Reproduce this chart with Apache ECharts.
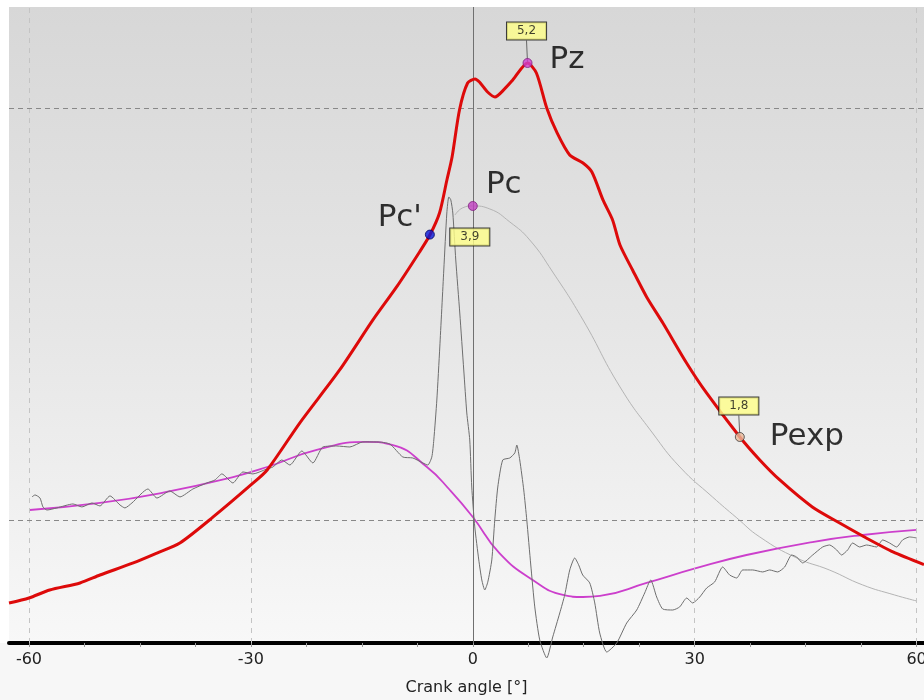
<!DOCTYPE html>
<html><head><meta charset="utf-8">
<script src="https://cdn.jsdelivr.net/npm/echarts@6/dist/echarts.min.js"></script>
<style>html,body{margin:0;padding:0;background:#fff;overflow:hidden;}#c{width:924px;height:700px;}</style>
</head><body><div id="c"></div>
<script>
// ---- data (crank angle in degrees, pressure-like value) ----
const pressureCurve = [[-62.7,0.29],[-60.0,0.336],[-57.2,0.409],[-53.1,0.473],[-50.4,0.545],[-45.9,0.655],[-42.7,0.745],[-39.6,0.836],[-35.1,1.073],[-30.0,1.364],[-27.8,1.5],[-23.4,1.927],[-18.0,2.409],[-13.5,2.864],[-10.3,3.164],[-7.2,3.482],[-5.8,3.636],[-4.5,3.836],[-3.5,4.136],[-2.8,4.345],[-1.8,4.773],[-0.7,5.018],[0.3,5.055],[0.9,5.027],[2.0,4.936],[3.0,4.891],[4.3,4.964],[5.4,5.045],[7.4,5.2],[8.6,5.109],[10.0,4.791],[11.4,4.564],[13.1,4.364],[14.9,4.291],[16.1,4.209],[17.6,3.955],[18.9,3.773],[19.9,3.545],[21.6,3.318],[23.5,3.073],[25.7,2.836],[28.9,2.473],[31.6,2.2],[36.1,1.8],[38.8,1.591],[41.5,1.409],[45.9,1.164],[49.6,1.018],[53.2,0.882],[56.8,0.755],[61.0,0.64]];
const motoredCurve = [[-2.4,3.818],[-1.4,3.882],[0,3.9],[2.3,3.873],[5.0,3.755],[7.7,3.591],[10.8,3.3],[14.9,2.864],[19.9,2.255],[24.3,1.836],[28.0,1.527],[32.4,1.255],[35.7,1.064],[38.8,0.891],[43.8,0.7],[48.2,0.591],[52.7,0.455],[57.0,0.364],[60.0,0.309]];
const smoothCurve = [[-59.9,1.136],[-50.4,1.2],[-41.4,1.3],[-32.4,1.436],[-27.8,1.527],[-21.1,1.682],[-14.3,1.755],[-10.8,1.727],[-6.2,1.527],[-3.1,1.318],[0,1.073],[3.6,0.745],[8.1,0.5],[12.2,0.364],[14.9,0.345],[17.2,0.355],[23.5,0.473],[30.3,0.609],[37.0,0.727],[45.9,0.845],[52.7,0.909],[60.0,0.955]];
const rawCurve = [[-59.59,1.255],[-59.19,1.273],[-58.51,1.245],[-58.11,1.164],[-57.57,1.136],[-56.22,1.155],[-54.05,1.191],[-52.84,1.164],[-51.49,1.2],[-50.41,1.173],[-49.05,1.264],[-47.7,1.182],[-47.03,1.155],[-46.08,1.2],[-43.92,1.327],[-42.7,1.245],[-40.95,1.309],[-39.59,1.255],[-37.84,1.327],[-35.95,1.382],[-34.86,1.409],[-33.92,1.464],[-32.43,1.382],[-31.08,1.482],[-29.73,1.464],[-27.84,1.509],[-27.03,1.527],[-25.81,1.591],[-24.73,1.545],[-23.11,1.673],[-21.62,1.564],[-20.27,1.709],[-18.38,1.718],[-16.62,1.709],[-14.86,1.755],[-12.97,1.755],[-11.22,1.736],[-9.46,1.618],[-8.11,1.609],[-6.76,1.564],[-6.08,1.545],[-5.54,1.618],[-5.27,1.773],[-4.86,2.136],[-4.46,2.618],[-3.92,3.318],[-3.51,3.836],[-3.24,3.982],[-2.97,3.955],[-2.7,3.836],[-2.3,3.409],[-1.76,2.927],[-1.22,2.409],[-0.81,2.018],[-0.41,1.773],[-0.14,1.345],[0.27,0.982],[0.81,0.682],[1.22,0.5],[1.62,0.409],[2.03,0.482],[2.57,0.682],[2.97,1.045],[3.38,1.345],[4.05,1.591],[5.0,1.609],[5.68,1.655],[5.95,1.727],[6.35,1.591],[6.89,1.318],[7.3,1.045],[7.84,0.636],[8.38,0.255],[9.05,-0.045],[10.0,-0.209],[10.81,-0.018],[11.76,0.2],[12.43,0.364],[13.11,0.591],[13.78,0.7],[14.32,0.636],[14.86,0.545],[15.81,0.473],[16.49,0.291],[17.16,0.018],[18.11,-0.155],[19.46,-0.073],[20.81,0.109],[22.16,0.227],[23.24,0.382],[24.05,0.5],[24.86,0.345],[25.68,0.236],[27.03,0.227],[27.97,0.255],[28.92,0.336],[29.73,0.291],[30.68,0.345],[31.62,0.427],[32.7,0.482],[33.78,0.618],[34.73,0.545],[35.68,0.518],[36.49,0.591],[37.84,0.591],[39.19,0.573],[40.14,0.591],[41.22,0.573],[42.16,0.618],[43.11,0.727],[43.78,0.709],[44.59,0.655],[45.95,0.727],[47.3,0.8],[48.24,0.818],[49.19,0.773],[49.86,0.727],[50.68,0.773],[51.35,0.836],[52.3,0.8],[53.24,0.818],[54.59,0.8],[55.41,0.864],[56.35,0.836],[57.3,0.8],[58.11,0.864],[59.05,0.891],[60.0,0.882]];

const markerNames = ['Pz', 'Pc', "Pc'", 'Pexp'];
const markerAngles = [7.4, 0, -5.8, 36.1];
const markerValues = [5.2, 3.9, 3.64, 1.8];
const valueBoxNames = ['Pz', 'Pc', 'Pexp'];

const xLabelValues = [-60, -30, 0, 30, 60];
const xTickValues = [-60, -52.5, -45, -37.5, -30, -22.5, -15, -7.5, 0, 7.5, 15, 22.5, 30, 37.5, 45, 52.5, 60];
const xGridLines = [-60, -30, 30, 60];
const yGridLines = [4.79, 1.045];
const xZeroLine = [0];
const xAxisTitle = 'Crank angle [°]';

// ---- styles / placement ----
const markerStyle = {
  'Pz':   {color: '#d040d0', border: '#802080', label: {position: 'right', distance: 17, offset: [0, -3]}},
  'Pc':   {color: '#c040c0', border: '#802080', label: {position: 'top', distance: 1, offset: [31, 0]}},
  "Pc'":  {color: '#0818d8', border: '#000060', label: {position: 'left', distance: 3, offset: [0, -17]}},
  'Pexp': {color: '#e8b898', border: '#404040', label: {position: 'right', distance: 25, offset: [0, 0]}}
};
const boxPlacement = {'Pz': [-1, -32, true], 'Pc': [-3, 31, false], 'Pexp': [-1, -31, true]};
const FONT = 'DejaVu Sans';

const chart = echarts.init(document.getElementById('c'), null, {width: 924, height: 700});

const markerData = markerNames.map((n, i) => ({
  name: n,
  value: [markerAngles[i], markerValues[i]],
  itemStyle: {color: markerStyle[n].color, borderColor: markerStyle[n].border, borderWidth: 1},
  label: markerStyle[n].label
}));
const boxData = markerNames.map((n, i) => ({n, i})).filter(o => valueBoxNames.includes(o.n)).map(o => ({
  name: o.n,
  value: [markerAngles[o.i], markerValues[o.i]],
  labelLine: {show: boxPlacement[o.n][2]}
}));

chart.setOption({
  backgroundColor: '#ffffff',
  animation: false,
  graphic: [{type: 'rect', left: 0, bottom: 0, z: -10, silent: true,
    shape: {width: 924, height: 57}, style: {fill: '#f7f7f7'}}],
  grid: {
    left: 9, top: 7, right: 0, bottom: 57, show: true, borderWidth: 0,
    containLabel: false, outerBoundsMode: 'none',
    backgroundColor: new echarts.graphic.LinearGradient(0, 0, 0, 1, [
      {offset: 0, color: '#d7d7d7'}, {offset: 0.5, color: '#e6e6e6'}, {offset: 1, color: '#f8f8f8'}
    ])
  },
  xAxis: {
    type: 'value', min: -62.7, max: 61.0,
    name: xAxisTitle, nameLocation: 'middle', nameGap: 37,
    nameTextStyle: {fontFamily: FONT, fontSize: 16, color: '#222'},
    axisLine: {onZero: false, lineStyle: {color: '#000', width: 4}},
    axisTick: {show: true, customValues: xTickValues, length: 4, lineStyle: {color: '#999'}},
    axisLabel: {customValues: xLabelValues, fontFamily: FONT, fontSize: 16, color: '#222', margin: 9},
    splitLine: {show: false}
  },
  yAxis: {type: 'value', min: -0.073, max: 5.709, show: false, splitLine: {show: false}},
  series: [
    {
      type: 'line', data: [], silent: true,
      markLine: {
        silent: true, symbol: 'none', label: {show: false},
        data: [
          ...xGridLines.map(v => ({xAxis: v, lineStyle: {color: '#c4c4c4', type: [5, 5], width: 1}})),
          ...yGridLines.map(v => ({yAxis: v, lineStyle: {color: '#888888', type: [5, 4], width: 1}}))
        ]
      }
    },
    {type: 'line', data: motoredCurve, showSymbol: false, smooth: true, silent: true,
     lineStyle: {color: '#b4b4b4', width: 1}, z: 2},
    {type: 'line', data: smoothCurve, showSymbol: false, smooth: true, silent: true,
     lineStyle: {color: '#cc3fcc', width: 1.8}, z: 3},
    {type: 'line', data: rawCurve, showSymbol: false, smooth: 0.2, silent: true, clip: false,
     lineStyle: {color: '#6e6e6e', width: 1}, z: 4,
     markLine: {silent: true, symbol: 'none', label: {show: false},
       data: xZeroLine.map(v => ({xAxis: v})), lineStyle: {color: '#707070', type: 'solid', width: 1}}},
    {type: 'line', data: pressureCurve, showSymbol: false, smooth: 0.25, silent: true,
     lineStyle: {color: '#dd0a0a', width: 3}, z: 5},
    {type: 'scatter', data: boxData, symbolSize: 2, silent: true, z: 6,
     itemStyle: {color: 'rgba(0,0,0,0)'},
     label: {show: true, position: 'inside',
       formatter: p => p.value[1].toFixed(1).replace('.', ','),
       backgroundColor: '#ffff88', borderColor: '#111', borderWidth: 1, padding: [3, 10, 2, 10],
       color: '#111', fontFamily: FONT, fontSize: 12},
     labelLayout: p => {
       const b = boxPlacement[boxData[p.dataIndex].name];
       return {dx: b[0], dy: b[1]};
     },
     labelLine: {show: true, lineStyle: {color: '#666', width: 1}}},
    {type: 'scatter', data: markerData, symbol: 'circle', symbolSize: 9, silent: true, z: 7,
     label: {show: true, formatter: '{b}', fontFamily: FONT, fontSize: 31, color: '#000'}}
  ]
});
</script></body></html>
